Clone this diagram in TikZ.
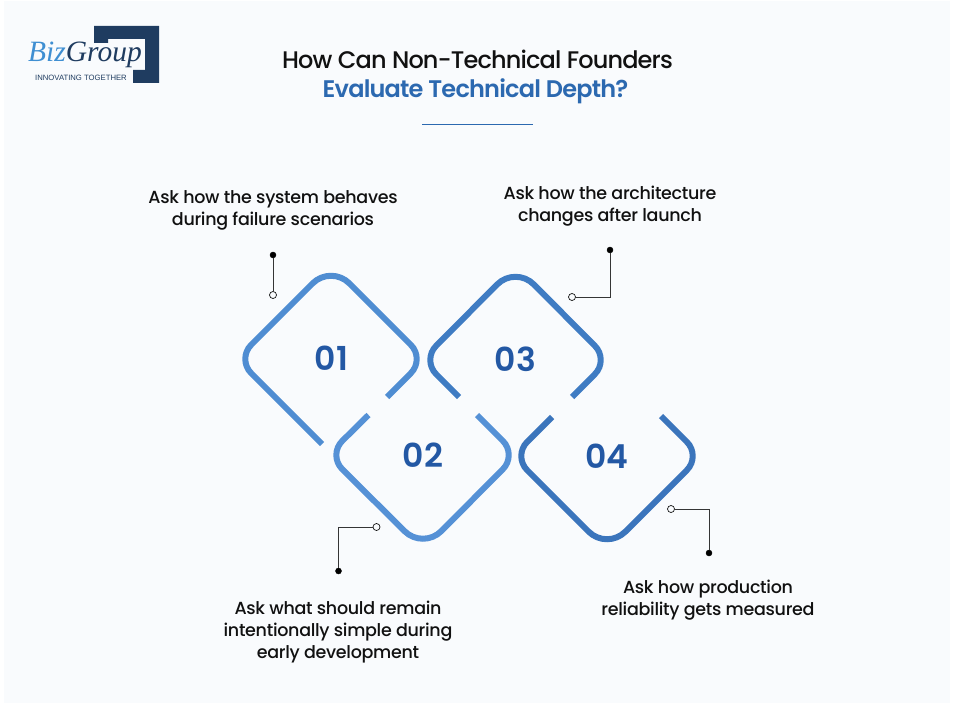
\documentclass[tikz,border=0pt]{standalone}
\usepackage{fontspec}
\setmainfont{Poppins}
\newfontfamily\popmed{Poppins Medium}
\newfontfamily\poptitle[LetterSpace=-3.5]{Poppins Medium}
\newfontfamily\poptitleb[LetterSpace=-3.3]{Poppins SemiBold}
\newfontfamily\poplabel[LetterSpace=-1.7]{Poppins Medium}
\newfontfamily\popsemi{Poppins SemiBold}
\newfontfamily\logoserif{Liberation Serif}
\newfontfamily\logosans{Liberation Sans}
\definecolor{pagebg}{HTML}{F9FBFD}
\definecolor{ink}{HTML}{111111}
\definecolor{titleblue}{HTML}{2C69B0}
\definecolor{numblue}{HTML}{2358A4}
\definecolor{dia1}{HTML}{4F8DD2}
\definecolor{dia2}{HTML}{5591D6}
\definecolor{dia3}{HTML}{3F7CC3}
\definecolor{dia4}{HTML}{3B75BC}
\definecolor{logodark}{HTML}{1F3C60}
\definecolor{logoblue}{HTML}{3F8FD2}
\tikzset{
  x=1pt,y=-1pt,
  title/.style={font=\poptitle\fontsize{24}{28}\selectfont,text=ink,inner sep=0pt},
  titleb/.style={font=\poptitleb\fontsize{24}{28}\selectfont,text=titleblue,inner sep=0pt},
  label/.style={font=\poplabel\fontsize{17.5}{22}\selectfont,text=ink,align=center,inner sep=0pt},
  num/.style={font=\popsemi\fontsize{33}{36}\selectfont,text=numblue,inner sep=0pt},
  dia/.style={line width=6pt,line cap=butt},
  side corner/.style={rounded corners=20pt},
  tip corner/.style={rounded corners=26pt},
  solid dot/.style={circle,fill=black,draw=black,minimum size=6pt,inner sep=0pt},
  open dot/.style={circle,fill=pagebg,draw=ink,line width=.7pt,minimum size=7pt,inner sep=0pt},
  lead/.style={draw=ink!85,line width=.8pt},
}
\begin{document}
\begin{tikzpicture}
\useasboundingbox (0,0) rectangle (955,706);
\fill[white] (0,0) rectangle (955,706);
\fill[pagebg] (4,1) rectangle (950,703);
% logo
\fill[logodark] (94,26) -- (159,26) -- (159,83) -- (133,83) -- (133,70) -- (145,70) -- (145,39) -- (108,39) -- (108,43) -- (94,43) -- cycle;
\node[anchor=base west,inner sep=0pt,font=\logoserif\itshape\fontsize{29.5}{31}\selectfont] (logo) at (28,62) {\textcolor{logoblue}{Biz}\textcolor{logodark}{Group}};
\node[anchor=base west,inner sep=0pt,font=\logosans\fontsize{7.7}{9}\selectfont,text=logodark] (tag) at (35,81) {INNOVATING TOGETHER};
% title
\node[title] (t1) at (477.5,59) {How Can Non-Technical Founders};
\node[titleb] (t2) at (475.5,91.5) {Evaluate Technical Depth?};
\coordinate (ruleL) at (422,124.5);
\coordinate (ruleR) at (533,124.5);
\draw[titleblue,line width=.9pt] (ruleL) -- (ruleR);
% diamonds
\draw[dia,dia1] (322,444) [side corner] -- (237,359) [tip corner] -- (331,265) [side corner] -- (425,359) -- (387,397);
\draw[dia,dia2] (368.5,415) [side corner] -- (328,455) [tip corner] -- (423,549.5) [side corner] -- (517,455) -- (477,415);
\draw[dia,dia3] (459,397) [side corner] -- (422,360) [tip corner] -- (515.5,266) [side corner] -- (609,360) -- (572,397);
\draw[dia,dia4] (552,417) [side corner] -- (513,456) [tip corner] -- (607,550) [side corner] -- (701,456) -- (661,416);
\node[num] (n1) at (331.5,358) {01};
\node[num] (n2) at (423,455) {02};
\node[num] (n3) at (515.5,359) {03};
\node[num] (n4) at (607,456.5) {04};
% labels
\node[label] (l1) at (273,210.5) {Ask how the system behaves\\during failure scenarios};
\node[label] (l3) at (610,206.5) {Ask how the architecture\\changes after launch};
\node[label] (l2) at (338,632.5) {Ask what should remain\\intentionally simple during\\early development};
\node[label] (l4) at (708,600) {Ask how production\\reliability gets measured};
% leaders
\node[solid dot] (a1) at (273,255) {};
\node[open dot] (b1) at (273,295) {};
\draw[lead] (a1) -- (b1);
\node[solid dot] (a3) at (610,250) {};
\node[open dot] (b3) at (572,297) {};
\draw[lead] (a3) |- (b3);
\node[solid dot] (a2) at (338.5,571) {};
\node[open dot] (b2) at (376.5,527) {};
\draw[lead] (a2) |- (b2);
\node[solid dot] (a4) at (709,553) {};
\node[open dot] (b4) at (671,509) {};
\draw[lead] (a4) |- (b4);
\end{tikzpicture}
\end{document}
